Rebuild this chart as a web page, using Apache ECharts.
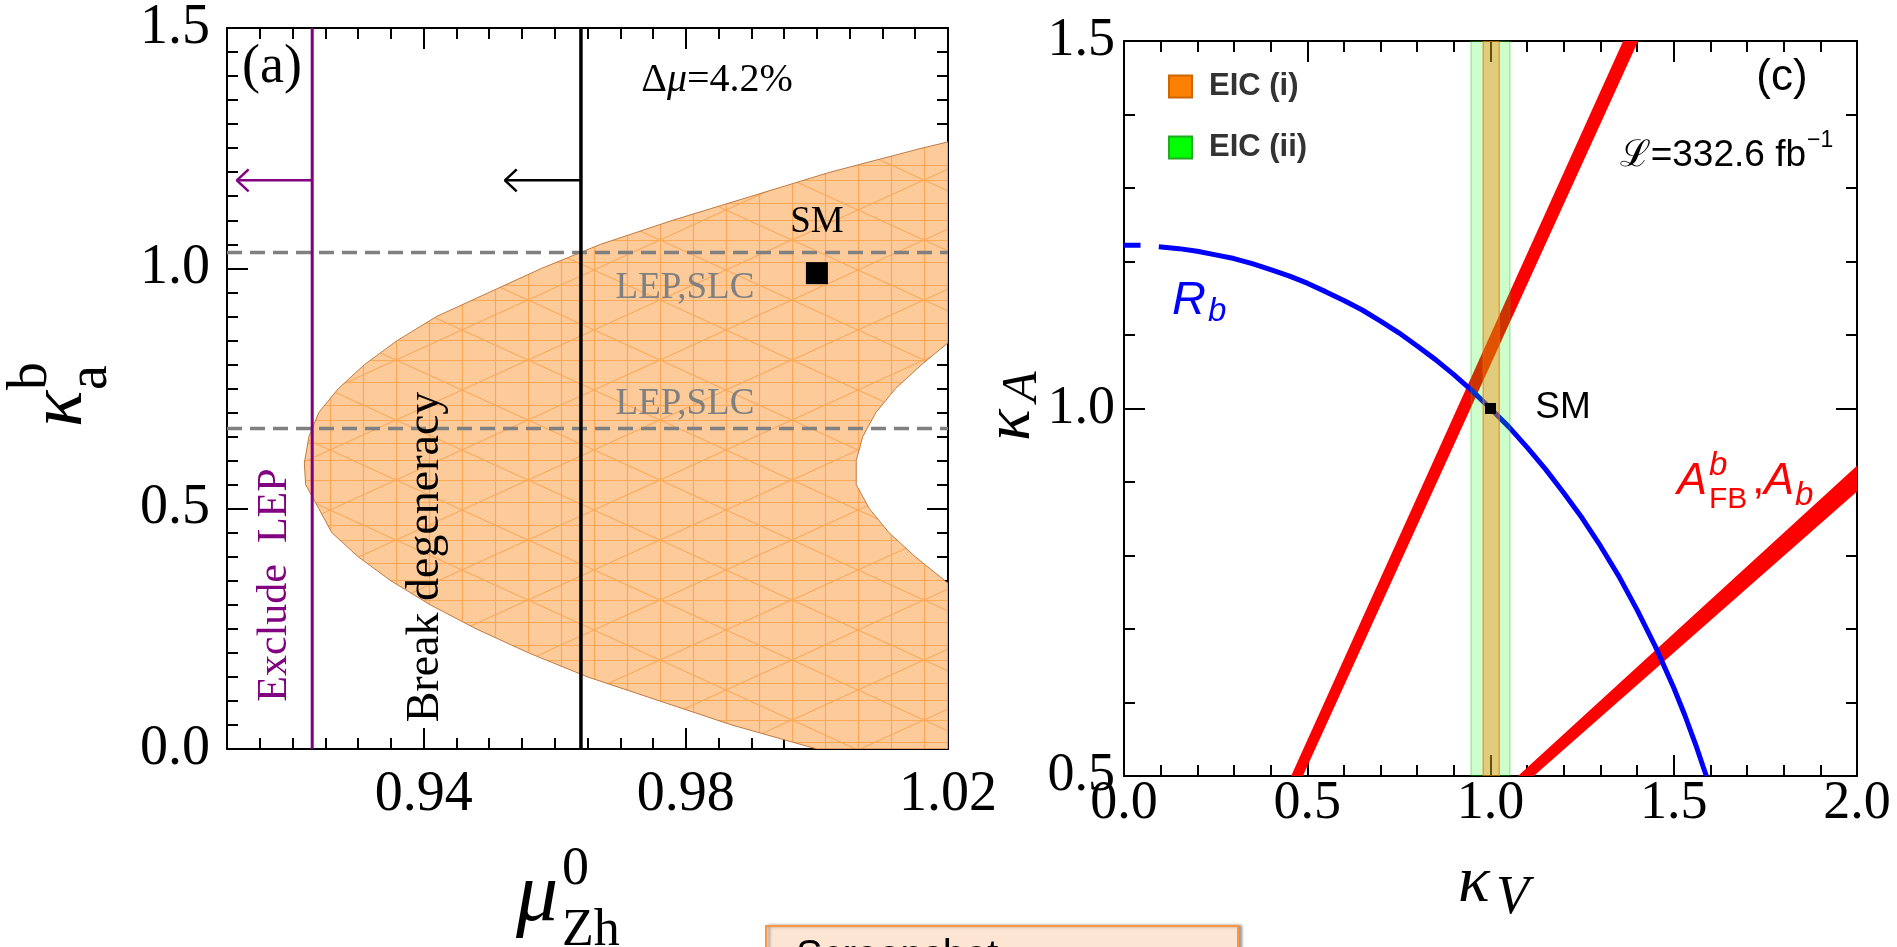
<!DOCTYPE html>
<html><head><meta charset="utf-8">
<script src="https://cdn.jsdelivr.net/npm/echarts@6/dist/echarts.min.js"></script>
<style>html,body{margin:0;padding:0;background:#fff;overflow:hidden}#c{width:1897px;height:947px}</style>
</head><body><div id="c"></div><script>
// ================= DATA =================
// Panel (a): mu_Zh^0 (x) vs kappa_a^b (y)
const aXRange = [0.91, 1.02];
const aYRange = [0.0, 1.5];
const aXMajor = [0.94, 0.98, 1.02];
const aYMajor = [0.0, 0.5, 1.0, 1.5];
// outer boundary of allowed region (top -> bottom)
const outerMu = [1.020,1.016,1.002,0.990,0.978,0.967,0.958,0.950,0.942,0.936,0.931,0.927,0.924,0.9225,0.9218,0.922,0.924,0.926,0.930,0.935,0.941,0.948,0.956,0.965,0.976,0.987,1.000];
const outerKa = [1.263,1.250,1.200,1.150,1.100,1.050,1.000,0.950,0.900,0.850,0.800,0.750,0.700,0.650,0.595,0.550,0.500,0.450,0.400,0.350,0.300,0.250,0.200,0.150,0.100,0.050,0.000];
// inner boundary (hole on the right, bottom -> top)
const innerMu = [1.020,1.015,1.011,1.008,1.006,1.006,1.007,1.009,1.012,1.016,1.020];
const innerKa = [0.345,0.400,0.450,0.500,0.550,0.600,0.650,0.700,0.750,0.800,0.845];
const lepSlcKa = [1.033, 0.667];
const excludeLepMu = 0.923;
const breakDegMu = 0.964;
const arrowKa = 1.183;
const excludeArrowTipMu = 0.9115;
const breakArrowTipMu = 0.9524;
const smA = [1.0, 0.99];

// Panel (c): kappa_V (x) vs kappa_A (y)
const cXRange = [0.0, 2.0];
const cYRange = [0.5, 1.5];
const cXMajor = [0.0, 0.5, 1.0, 1.5, 2.0];
const cYMajor = [0.5, 1.0, 1.5];
const rbKv = [0.000,0.045,'-',0.095,0.15,0.20,0.25,0.30,0.35,0.40,0.45,0.50,0.55,0.60,0.65,0.70,0.75,0.80,0.85,0.90,0.95,1.00,1.05,1.10,1.15,1.20,1.25,1.30,1.35,1.40,1.45,1.50,1.53,1.56,1.58,1.589];
const rbKa = [1.222,1.222,'-',1.220,1.2175,1.214,1.209,1.204,1.197,1.189,1.1805,1.1705,1.159,1.147,1.134,1.119,1.103,1.085,1.0665,1.046,1.024,1.000,0.975,0.947,0.9175,0.885,0.851,0.813,0.772,0.726,0.676,0.620,0.583,0.5425,0.513,0.500];
const afb1Kv = [0.456, 0.488, 1.403, 1.362];
const afb1Ka = [0.500, 0.500, 1.500, 1.500];
const afb2Kv = [1.075, 1.118, 2.000, 2.000];
const afb2Ka = [0.500, 0.500, 0.887, 0.922];
const eic1 = [0.980, 1.024];
const eic2 = [0.947, 1.053];
const smC = [1.0, 1.0];

// ================= RENDER =================
const SERIF = "'Liberation Serif','Times New Roman',serif";
const SANS = "'Liberation Sans',Arial,sans-serif";

function meshPattern(){
  const W = 132, H = 120;
  const c = document.createElement('canvas'); c.width = W; c.height = H;
  const g = c.getContext('2d');
  g.fillStyle = 'rgb(253,202,153)'; g.fillRect(0,0,W,H);
  g.strokeStyle = 'rgba(248,145,45,0.62)'; g.lineWidth = 1.1;
  g.beginPath();
  [0.5,33.5,66.5,99.5].forEach(x=>{g.moveTo(x,0);g.lineTo(x,H);});
  [0.5,22.5,45.5,60.5,83.5,100.5].forEach(y=>{g.moveTo(0,y);g.lineTo(W,y);});
  g.moveTo(0,60);g.lineTo(W,0);
  g.moveTo(0,120);g.lineTo(W,60);
  g.moveTo(0,0);g.lineTo(W,60);
  g.moveTo(0,60);g.lineTo(W,120);
  g.stroke();
  return c;
}
const mesh = meshPattern();

const gridA = {left:227, top:28, width:721, height:721};
const gridC = {left:1124, top:41, width:733, height:735};

function axesFor(dir, gMinor, gMajor, range, minorInt, majors, labelCfg){
  const sides = dir === 'x' ? ['bottom','top'] : ['left','right'];
  const out = [];
  sides.forEach(pos => out.push({
    type:'value', gridIndex:gMinor, position:pos, min:range[0], max:range[1], interval:minorInt,
    axisLine:{show:false, onZero:false}, splitLine:{show:false}, axisLabel:{show:false},
    axisTick:{show:true, inside:true, length:11, lineStyle:{color:'#000', width:2}}
  }));
  sides.forEach((pos,i) => out.push({
    type:'value', gridIndex:gMajor, position:pos, min:range[0], max:range[1],
    axisLine:{show:true, onZero:false, lineStyle:{color:'#000', width:2}},
    splitLine:{show:false},
    axisTick:{show:true, inside:true, length:21, customValues:majors, lineStyle:{color:'#000', width:2}},
    axisLabel: i === 0 ? Object.assign({show:true, customValues:majors, showMinLabel:true, showMaxLabel:true, color:'#000', fontFamily:SERIF}, labelCfg) : {show:false}
  }));
  return out;
}

const xAxes = [].concat(
  axesFor('x', 0, 1, aXRange, 0.005, aXMajor, {fontSize:56, margin:18, formatter:v=>v.toFixed(2)}),
  axesFor('x', 2, 3, cXRange, 0.1, cXMajor, {fontSize:54, margin:1, formatter:v=>v.toFixed(1)})
);
const yAxes = [].concat(
  axesFor('y', 0, 1, aYRange, 0.05, aYMajor, {fontSize:56, margin:17, formatter:v=>v.toFixed(1)}),
  axesFor('y', 2, 3, cYRange, 0.1, cYMajor, {fontSize:54, margin:9, formatter:v=>v.toFixed(1)})
);

const regionPts = outerMu.map((m,i)=>[m, outerKa[i]])
  .concat([[aXRange[1], aYRange[0]]])
  .concat(innerMu.map((m,i)=>[m, innerKa[i]]));

function lineSeries(xi, pts, color, width, z, dash){
  return {type:'line', xAxisIndex:xi, yAxisIndex:xi, data:pts, symbol:'none', silent:true, z:z,
    lineStyle:{color:color, width:width, type: dash || 'solid'}, animation:false};
}
function polySeries(xi, xs, ys, style, z){
  const pts = xs.map((x,i)=>[x, ys[i]]);
  return {type:'custom', xAxisIndex:xi, yAxisIndex:xi, z:z, clip:true, silent:true, data:[pts[0]],
    renderItem:(p, api)=>({type:'polygon', shape:{points:pts.map(q=>api.coord(q))}, style:style})};
}
function bandSeries(name, range, fill, stroke, legendColor, legendBorder, z){
  return {type:'custom', name:name, xAxisIndex:4, yAxisIndex:4, z:z, clip:true, silent:true,
    itemStyle:{color:legendColor, borderColor:legendBorder, borderWidth:1},
    data:[[range[0], range[1]]],
    renderItem:(p, api)=>{
      const a = api.coord([api.value(0), cYRange[1]]);
      const b = api.coord([api.value(1), cYRange[0]]);
      return {type:'rect', shape:{x:a[0], y:a[1], width:b[0]-a[0], height:b[1]-a[1]},
        style:{fill:fill, stroke:stroke, lineWidth:1.5}};
    }};
}

const series = [
  // panel (a)
  {type:'custom', xAxisIndex:0, yAxisIndex:0, z:1, clip:true, silent:true, data:[regionPts[0]],
   renderItem:(p, api)=>({type:'polygon', shape:{points:regionPts.map(q=>api.coord(q))},
     style:{fill:{image:mesh, repeat:'repeat'}, stroke:'rgba(185,110,50,0.9)', lineWidth:1}})},
  lineSeries(0, [[aXRange[0], lepSlcKa[0]],[aXRange[1], lepSlcKa[0]]], '#808080', 3.5, 3, [15,8]),
  lineSeries(0, [[aXRange[0], lepSlcKa[1]],[aXRange[1], lepSlcKa[1]]], '#808080', 3.5, 3, [15,8]),
  lineSeries(0, [[excludeLepMu, aYRange[0]],[excludeLepMu, aYRange[1]]], '#800080', 3, 4),
  lineSeries(0, [[excludeLepMu, arrowKa],[excludeArrowTipMu, arrowKa]], '#800080', 2.5, 4),
  lineSeries(0, [[excludeArrowTipMu+0.0018, arrowKa+0.023],[excludeArrowTipMu, arrowKa],[excludeArrowTipMu+0.0018, arrowKa-0.023]], '#800080', 2.5, 4),
  lineSeries(0, [[breakDegMu, aYRange[0]],[breakDegMu, aYRange[1]]], '#000000', 3.5, 4),
  lineSeries(0, [[breakDegMu, arrowKa],[breakArrowTipMu, arrowKa]], '#000000', 2.5, 4),
  lineSeries(0, [[breakArrowTipMu+0.0018, arrowKa+0.023],[breakArrowTipMu, arrowKa],[breakArrowTipMu+0.0018, arrowKa-0.023]], '#000000', 2.5, 4),
  {type:'scatter', xAxisIndex:0, yAxisIndex:0, z:5, silent:true, symbol:'rect', symbolSize:22,
   itemStyle:{color:'#000', opacity:1}, data:[smA]},
  // panel (c)
  polySeries(4, afb1Kv, afb1Ka, {fill:'#ff0000'}, 2),
  polySeries(4, afb2Kv, afb2Ka, {fill:'#ff0000'}, 2),
  {type:'line', xAxisIndex:4, yAxisIndex:4, z:3, silent:true, symbol:'none', connectNulls:false,
   lineStyle:{color:'#0000ff', width:5}, data:rbKv.map((x,i)=>[x, rbKa[i]])},
  bandSeries('EIC (ii)', eic2, 'rgba(0,255,0,0.2)', 'rgba(0,200,0,0.3)', '#00ff00', '#22aa22', 4),
  bandSeries('EIC (i)', eic1, 'rgba(255,128,0,0.4)', 'rgba(230,110,0,0.55)', '#ff8000', '#cc6600', 5),
  {type:'scatter', xAxisIndex:4, yAxisIndex:4, z:6, silent:true, symbol:'rect', symbolSize:11,
   itemStyle:{color:'#000', opacity:1}, data:[smC]}
];

function T(text, x, y, size, family, o){
  o = o || {};
  return {type:'text', x:x, y:y, silent:true, z:100, rotation:o.rotation||0,
    style:{text:text, fontSize:size, fontFamily:family, fontStyle:o.italic?'italic':'normal',
      fontWeight:o.bold?'bold':'normal', fill:o.color||'#000',
      align:o.align||'center', verticalAlign:'middle', textAlign:o.align||'center', textVerticalAlign:'middle'}};
}
function G(x, y, children){
  return {type:'group', x:x, y:y, rotation:Math.PI/2, silent:true, children:children};
}

const graphics = [
  // panel (a) annotations
  T('(a)', 272, 68, 54, SERIF),
  {type:'text', x:717, y:80, z:100, silent:true, style:{text:'{n|Δ}{i|μ}{n|=4.2%}', align:'center', verticalAlign:'middle',
    rich:{n:{fontSize:40, fontFamily:SERIF, fill:'#000'}, i:{fontSize:40, fontFamily:SERIF, fontStyle:'italic', fill:'#000'}}}},
  T('SM', 817, 222, 37, SERIF),
  T('LEP,SLC', 685, 288, 37, SERIF, {color:'#808080'}),
  T('LEP,SLC', 685, 404, 37, SERIF, {color:'#808080'}),
  T('Exclude  LEP', 275, 585, 42, SERIF, {color:'#800080', rotation:Math.PI/2}),
  T('Break degeneracy', 426, 557, 46, SERIF, {rotation:Math.PI/2}),
  // panel (a) x title: mu^0_Zh
  T('μ', 516, 898, 84, SERIF, {italic:true, align:'left'}),
  T('0', 562, 870, 54, SERIF, {align:'left'}),
  T('Zh', 562, 931, 52, SERIF, {align:'left'}),
  // panel (a) y title: kappa^b_a (rotated)
  G(87, 427, [
    T('κ', 0, -26, 76, SERIF, {italic:true, align:'left'}),
    T('b', 37, -56, 56, SERIF, {align:'left'}),
    T('a', 37, 4, 56, SERIF, {align:'left'})
  ]),
  // panel (c) annotations
  T('(c)', 1782, 78, 44, SANS),
  T('ℒ=332.6 fb', 1806, 156, 37, SANS, {align:'right'}),
  T('−1', 1807, 141, 23, SANS, {align:'left'}),
  T('SM', 1563, 408, 37, SANS),
  T('R', 1172, 301, 47, SANS, {italic:true, align:'left', color:'#0000ff'}),
  T('b', 1208, 312, 33, SANS, {italic:true, align:'left', color:'#0000ff'}),
  T('A', 1677, 481, 45, SANS, {italic:true, align:'left', color:'#ff0000'}),
  T('b', 1709, 466, 33, SANS, {italic:true, align:'left', color:'#ff0000'}),
  T('FB', 1709, 500, 30, SANS, {align:'left', color:'#ff0000'}),
  T(',', 1752, 481, 45, SANS, {align:'left', color:'#ff0000'}),
  T('A', 1764, 481, 45, SANS, {italic:true, align:'left', color:'#ff0000'}),
  T('b', 1795, 496, 33, SANS, {italic:true, align:'left', color:'#ff0000'}),
  // panel (c) x title: kappa_V
  T('κ', 1458, 884, 66, SERIF, {italic:true, align:'left'}),
  T('V', 1496, 899, 54, SERIF, {italic:true, align:'left'}),
  // panel (c) y title: kappa_A (rotated)
  G(1034, 441, [
    T('κ', 0, -22, 66, SERIF, {italic:true, align:'left'}),
    T('A', 39, -11, 50, SERIF, {italic:true, align:'left'})
  ]),
  // overlay box at the bottom (cut off)
  {type:'rect', z:100, silent:true, shape:{x:766, y:926, width:472, height:40},
   style:{fill:'#fde5d3', stroke:'#f79646', lineWidth:2, shadowBlur:3, shadowOffsetX:3, shadowColor:'rgba(0,0,0,0.35)'}},
  T('Screenshot', 796, 957, 40, SANS, {align:'left'})
];

const chart = echarts.init(document.getElementById('c'), null, {renderer:'canvas', width:1897, height:947});
chart.setOption({
  animation:false,
  backgroundColor:'#ffffff',
  grid:[
    Object.assign({}, gridA), Object.assign({}, gridA),
    Object.assign({}, gridC), Object.assign({}, gridC)
  ],
  xAxis:xAxes,
  yAxis:yAxes,
  legend:{data:['EIC (i)','EIC (ii)'], orient:'vertical', left:1163, top:66, itemWidth:23, itemHeight:22, itemGap:30,
    icon:'rect', selectedMode:false,
    textStyle:{fontFamily:SANS, fontWeight:'bold', fontSize:31, color:'#333333', padding:[0,0,0,12]}},
  series:series,
  graphic:graphics
});
</script></body></html>
